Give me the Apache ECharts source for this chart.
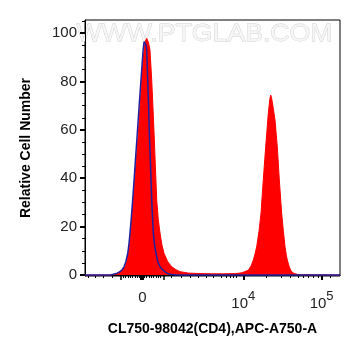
<!DOCTYPE html>
<html><head><meta charset="utf-8">
<script src="https://cdn.jsdelivr.net/npm/echarts@6/dist/echarts.min.js"></script>
<style>html,body{margin:0;padding:0;background:#fff}#c{width:361px;height:356px}</style>
</head><body><div id="c"></div>
<script>
// x values are in display units: decades on the biexponential axis (10^4 -> 4, 10^5 -> 5)
const xMin = 1.978, xMax = 5.235;
const yMin = -0.4, yMax = 105.4;

// Sample (red, filled)
const sampleX = [1.978,2.30,2.34,2.383,2.425,2.46,2.489,2.512,2.531,2.548,2.562,2.578,2.595,2.627,2.659,2.682,2.702,2.718,2.732,2.750,2.766,2.784,2.796,2.808,2.830,2.845,2.860,2.877,2.894,2.914,2.936,2.960,2.987,3.035,3.086,3.14,3.192,3.30,3.447,3.60,3.75,3.90,3.98,4.064,4.10,4.128,4.150,4.171,4.200,4.226,4.255,4.286,4.319,4.338,4.350,4.362,4.38,4.405,4.434,4.460,4.490,4.512,4.533,4.548,4.562,4.585,4.605,4.63,4.660,4.72,5.235];
const sampleY = [0,0,0.2,0.6,1.4,2.3,3.4,5.5,9,13,17.4,24,31,45,58.6,70,80.6,88,93,96.8,97.8,96.5,95,93,80.6,70,58.6,45,31,23,17.4,12.5,9,5.5,3.4,2.2,1.4,0.8,0.6,0.5,0.5,0.6,0.9,2,3.8,6.2,8.8,11.7,18,25.5,39.3,53,66.8,72.5,74.4,73,69.5,64,53,39.3,25.5,18,11.7,8.5,6.2,3.6,2,1,0.5,0.1,0];

// Control (blue, outline)
const controlX = [1.978,2.30,2.34,2.39,2.425,2.452,2.476,2.50,2.524,2.540,2.553,2.570,2.587,2.617,2.646,2.670,2.693,2.708,2.720,2.733,2.746,2.757,2.766,2.779,2.790,2.800,2.815,2.830,2.840,2.851,2.866,2.885,2.908,2.936,2.968,3.000,3.03,3.064,3.15,5.235];
const controlY = [0,0,0.3,0.8,1.4,2.2,3.4,5.5,9,13,17.4,24,31,45,58.6,70,80.6,87.5,93,96.5,96,95,93,80.6,70,58.6,45,31,24,17.4,12.5,9,5.5,3.4,2.2,1.4,0.7,0.3,0,0];

// Axis ticks
const xLabelPos = [2.71, 4, 5];
const xLabelText = ['0', '10^4', '10^5'];
const xZeroTick = [2.702];
const xMajorTicks = [4, 5];
const xMidTicks = [2.435, 2.979];
const xMinorTicks = [2.017,2.112,2.212,2.332,2.465,2.495,2.525,2.555,2.585,2.615,2.645,2.675,2.735,2.765,2.795,2.825,2.855,2.885,2.915,2.945,3.086,3.213,3.319,3.425,3.533,3.617,3.724,3.788,3.830,3.872,3.916,4.299,4.490,4.596,4.702,4.766,4.830,4.894,4.958,5.107];
const yLabelVals = [0, 20, 40, 60, 80, 100];
const yMinorTicks = [5,10,15,25,30,35,45,50,55,65,70,75,85,90,95,105];

const xTitle = 'CL750-98042(CD4),APC-A750-A';
const yTitle = 'Relative Cell Number';
const watermark = 'WWW.PTGLAB.COM';

const zip = (a, b) => a.map((v, i) => [v, b[i]]);
const chart = echarts.init(document.getElementById('c'), null, {renderer: 'canvas'});
const baseX = {type: 'value', min: xMin, max: xMax, position: 'bottom', splitLine: {show: false}};
const baseY = {type: 'value', min: yMin, max: yMax, position: 'left', splitLine: {show: false}};
chart.setOption({
  animation: false,
  grid: {left: 85, right: 21, top: 20, bottom: 80, show: true, borderColor: '#000', borderWidth: 1, backgroundColor: 'transparent'},
  graphic: [{
    type: 'text', left: 76, top: 22, z: 0,
    style: {text: watermark, font: '24px "Liberation Sans"', fill: '#f6f6f6', stroke: '#cfcfcf', lineWidth: 0.8},
    scaleX: 1.11
  }],
  xAxis: [
    Object.assign({}, baseX, {
      name: xTitle, nameLocation: 'middle', nameGap: 46,
      nameTextStyle: {fontFamily: 'Liberation Sans', fontWeight: 'bold', fontSize: 14, color: '#000'},
      axisLine: {show: true, lineStyle: {color: '#000', width: 1}},
      axisTick: {show: true, customValues: xMajorTicks, length: 5, lineStyle: {color: '#000', width: 2}},
      axisLabel: {customValues: xLabelPos, margin: 14, color: '#222', fontFamily: 'Liberation Sans', fontSize: 15,
        formatter: v => {
          const i = xLabelPos.findIndex(p => Math.abs(p - v) < 1e-6);
          const t = i >= 0 ? xLabelText[i] : '';
          if (t.indexOf('^') > 0) { const p = t.split('^'); return '{b|' + p[0] + '}{s|' + p[1] + '}'; }
          return '{b|' + t + '}';
        },
        rich: {b: {fontSize: 15, fontFamily: 'Liberation Sans', color: '#222'},
               s: {fontSize: 13, fontFamily: 'Liberation Sans', color: '#222', padding: [0, 0, 14, 0]}}
      }
    }),
    Object.assign({}, baseX, {axisLine: {show: false}, axisLabel: {show: false},
      axisTick: {show: true, customValues: xMinorTicks, length: 3, lineStyle: {color: '#000', width: 1}}}),
    Object.assign({}, baseX, {axisLine: {show: false}, axisLabel: {show: false},
      axisTick: {show: true, customValues: xMidTicks, length: 4, lineStyle: {color: '#000', width: 1.5}}}),
    Object.assign({}, baseX, {axisLine: {show: false}, axisLabel: {show: false},
      axisTick: {show: true, customValues: xZeroTick, length: 4, lineStyle: {color: '#000', width: 4}}})
  ],
  yAxis: [
    Object.assign({}, baseY, {
      name: yTitle, nameLocation: 'middle', nameGap: 52, nameRotate: 90,
      nameTextStyle: {fontFamily: 'Liberation Sans', fontWeight: 'bold', fontSize: 14, color: '#000'},
      axisLine: {show: true, lineStyle: {color: '#000', width: 1}},
      axisTick: {show: true, customValues: yLabelVals, length: 5, lineStyle: {color: '#000', width: 2}},
      axisLabel: {customValues: yLabelVals, margin: 8, color: '#222', fontFamily: 'Liberation Sans', fontSize: 15}
    }),
    Object.assign({}, baseY, {axisLine: {show: false}, axisLabel: {show: false},
      axisTick: {show: true, customValues: yMinorTicks, length: 3, lineStyle: {color: '#000', width: 1}}})
  ],
  series: [
    {type: 'line', xAxisIndex: 0, yAxisIndex: 0, data: zip(sampleX, sampleY), smooth: false, symbol: 'none',
     lineStyle: {color: '#ff0000', width: 1}, areaStyle: {color: '#ff0000', opacity: 1}, z: 2},
    {type: 'line', xAxisIndex: 0, yAxisIndex: 0, data: zip(controlX, controlY), smooth: false, symbol: 'none',
     lineStyle: {color: '#2020a0', width: 1.5}, z: 3}
  ]
});
</script></body></html>
